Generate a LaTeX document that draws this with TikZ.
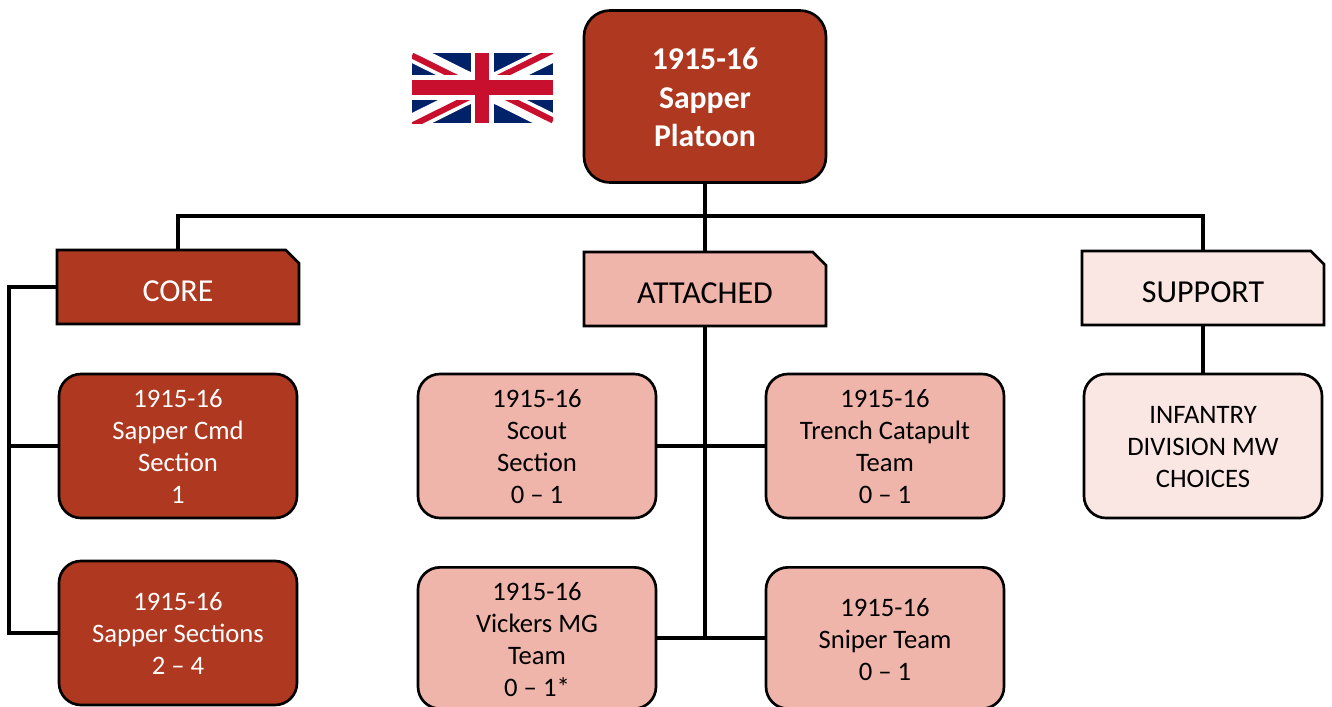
\documentclass[tikz,border=0pt]{standalone}
\usepackage{fontspec}
\setmainfont{Carlito}
\usetikzlibrary{shapes.misc}
\definecolor{rust}{HTML}{AE3820}
\definecolor{salmon}{HTML}{F0B5AA}
\definecolor{blush}{HTML}{FAE6E2}
\definecolor{ukblue}{HTML}{012169}
\definecolor{ukred}{HTML}{C8102E}
\newcommand{\shifted}[2]{\raisebox{#1}[\height][\depth]{\parbox{170pt}{\centering #2}}}
\tikzset{
  x=0.75pt,y=-0.75pt,
  conn/.style={line width=2.3pt,draw=black},
  boxbase/.style={draw=black,line width=2pt,align=center,inner sep=0pt},
  rootbox/.style={boxbase,rounded corners=19.5pt,minimum width=181.5pt,minimum height=129pt,fill=rust,text=white,font=\fontsize{23.8}{28.8}\selectfont\bfseries},
  headbox/.style={boxbase,chamfered rectangle,chamfered rectangle corners=north east,chamfered rectangle angle=45,chamfered rectangle sep=5pt,
     inner xsep=0pt,inner ysep=0pt,minimum width=181.5pt,minimum height=55.5pt,font=\fontsize{24}{26}\selectfont},
  unitbox/.style={boxbase,rounded corners=16.5pt,minimum width=178.5pt,font=\fontsize{20}{24}\selectfont},
  corec/.style={fill=rust,text=white},
  attc/.style={fill=salmon,text=black},
  supc/.style={fill=blush,text=black},
}
\begin{document}
\begin{tikzpicture}
\useasboundingbox (0,0) rectangle (1332,707);
\clip (0,0) rectangle (1332,707);
% flag
\begin{scope}
\clip (412,53) rectangle (553,123);
\fill[ukblue] (412,53) rectangle (553,123);
\draw[white,line width=13.5pt] (412,53) -- (553,123) (412,123) -- (553,53);
\begin{scope}
\clip (412,53) rectangle (482.5,88);
\draw[ukred,line width=4.5pt] (412,55.5) -- (482.5,90.5);
\end{scope}
\begin{scope}
\clip (482.5,53) rectangle (553,88);
\draw[ukred,line width=4.5pt] (482.5,85.5) -- (553,50.5);
\end{scope}
\begin{scope}
\clip (412,88) rectangle (482.5,123);
\draw[ukred,line width=4.5pt] (412,125.5) -- (482.5,90.5);
\end{scope}
\begin{scope}
\clip (482.5,88) rectangle (553,123);
\draw[ukred,line width=4.5pt] (482.5,85.5) -- (553,120.5);
\end{scope}
\fill[white] (471,53) rectangle (494,123);
\fill[white] (412,75) rectangle (553,100);
\fill[ukred] (475,53) rectangle (489,123);
\fill[ukred] (412,80) rectangle (553,95);
\end{scope}
% nodes
\node[rootbox] (root) at (705,96.5) {\shifted{-0.75pt}{1915-16\\Sapper\\Platoon}};
\node[headbox,corec] (core) at (178,287) {\shifted{-3pt}{CORE}};
\node[headbox,attc] (att) at (705,289) {\shifted{-3pt}{ATTACHED}};
\node[headbox,supc] (sup) at (1203,288) {\shifted{-3pt}{SUPPORT}};
\node[unitbox,corec,minimum height=108pt] (cmd) at (178,446) {\shifted{0pt}{1915-16\\Sapper Cmd\\Section\\1}};
\node[unitbox,corec,minimum height=108pt] (sec) at (178,633) {\shifted{0pt}{1915-16\\Sapper Sections\\2 – 4}};
\node[unitbox,attc,minimum height=108pt] (scout) at (537,446) {\shifted{-0.75pt}{1915-16\\Scout\\Section\\0 – 1}};
\node[unitbox,attc,minimum height=108pt] (catapult) at (885,446) {\shifted{-0.75pt}{1915-16\\Trench Catapult\\Team\\0 – 1}};
\node[unitbox,attc,minimum height=106pt] (vickers) at (537,638) {\shifted{-1.5pt}{1915-16\\Vickers MG\\Team\\0 – 1*}};
\node[unitbox,attc,minimum height=106pt] (sniper) at (885,638) {\shifted{-1.5pt}{1915-16\\Sniper Team\\0 – 1}};
\node[unitbox,supc,minimum height=108pt] (inf) at (1203,446) {\shifted{-0.75pt}{INFANTRY\\DIVISION MW\\CHOICES}};
% junctions
\coordinate (bus) at (705,216);
\coordinate (rail) at (9,287);
\coordinate (midB) at (705,638);
% connectors
\draw[conn,line width=2.8pt] (root.south) -- (bus);
\draw[conn] (core.north) |- (bus) -| (sup.north);
\draw[conn] (bus) -- (att.north);
\draw[conn,line cap=rect] (core.west) -- (rail) |- (sec.west);
\draw[conn] (rail |- cmd.west) -- (cmd.west);
\draw[conn] (att.south) -- (midB);
\draw[conn] (scout.east) -- (catapult.west);
\draw[conn] (vickers.east) -- (sniper.west);
\draw[conn] (sup.south) -- (inf.north);
\end{tikzpicture}
\end{document}
